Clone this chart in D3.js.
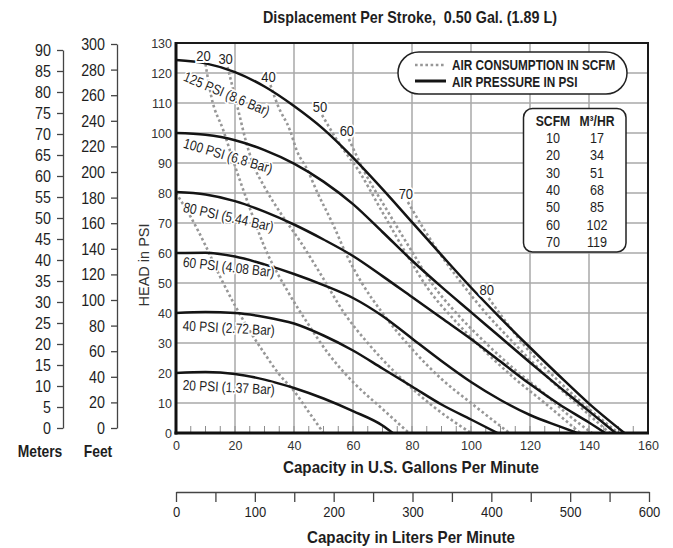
<!DOCTYPE html>
<html>
<head>
<meta charset="utf-8">
<title>pump curve | d3</title>
<style>
  body { margin: 0; background: #fff; }
  svg { display: block; }
  text { font-family: "Liberation Sans", Arial, sans-serif; fill: #1e1e1e; }
  .reg { fill: #333; }
  .bold { font-weight: bold; }
</style>
</head>
<body>
<svg width="673" height="548"></svg>
<script src="https://cdn.jsdelivr.net/npm/d3@7/dist/d3.min.js"></script>
<script>

// ---- data ----
var gpmTicks   = d3.range(0, 161, 20);
var psiTicks   = d3.range(0, 131, 10);
var meterTicks = d3.range(0, 91, 5);
var feetTicks  = d3.range(0, 301, 20);
var lpmTicks   = d3.range(0, 601, 50);

// air pressure curves  [gpm, psi]
var psi125 = [[0,124.3],[10,123.2],[20,120.3],[30,115.5],[40,109],[50,101.3],[60,91.8],[70,81.3],[80,70.3],[90,59.3],[100,48.5],[110,38.3],[120,28.5],[130,19],[140,9.8],[152,0]];
var psi100 = [[0,100],[10,99.4],[20,97.6],[30,94.3],[40,89.8],[50,83.8],[60,76.3],[70,67],[80,57.5],[90,48.7],[100,40.3],[110,31.9],[120,23.5],[130,15.3],[140,7.3],[149,0]];
var psi80  = [[0,80.3],[10,79.5],[20,77.3],[30,73.8],[40,69.5],[50,64.5],[60,59],[70,52.3],[80,45.3],[90,38.3],[100,31.3],[110,23.8],[120,16.3],[130,9.5],[140,3.5],[145.5,0]];
var psi60  = [[0,60],[10,60.1],[20,58.8],[30,56.2],[40,53],[50,49.3],[60,45],[70,39],[80,31.5],[90,24],[100,17],[110,11],[120,6],[130,2.2],[136,0]];
var psi40  = [[0,40],[10,40.3],[20,40],[30,38.7],[40,36.5],[50,32.5],[60,27.5],[70,21.5],[80,15.5],[90,9.5],[100,4.5],[109,0]];
var psi20  = [[0,20],[10,20.3],[20,19.7],[30,17.8],[40,15],[50,11.5],[60,7.3],[70,2.5],[73.5,0]];
var pressureNames = ['125 PSI (8.6 Bar)', '100 PSI (6.8 Bar)', '80 PSI (5.44 Bar)', '60 PSI (4.08 Bar)', '40 PSI (2.72 Bar)', '20 PSI (1.37 Bar)'];

// air consumption curves  [gpm, psi]
var scfm10 = [[0,80],[5,72],[10,62.5],[15,52],[20,42.5],[25,34],[30,26.5],[35,19.5],[40,14],[45,7],[50,0]];
var scfm20 = [[10,123],[12,112],[16,101],[20,89],[25,75],[30,62],[38,47],[45,36],[52,26],[60,17],[70,8],[79,0]];
var scfm30 = [[17.5,122],[19.5,114],[21.5,106],[23.5,98],[26,90],[30,82],[36,72.5],[42,64],[49,53],[57,40],[65,30],[75,19.5],[87,9],[100,0]];
var scfm40 = [[32,116],[34.6,109],[38.6,101],[41,94],[44.4,88],[48,80],[53,70],[58,59],[63,50],[70,40],[80,28],[90,18],[100,10],[113,0]];
var scfm50 = [[49.5,106],[55,97],[62.4,86.7],[69,75.3],[79.3,57.7],[85,48.7],[95,37],[105,27],[115,18],[125,10],[137,0]];
var scfm60 = [[58.6,98],[63.4,88],[71.5,74.3],[80.3,60],[87,49.5],[95,40],[105,30],[115,21],[125,13],[133,6],[141,0]];
var scfm70 = [[78.6,77],[84,68],[90.5,58.3],[96,51],[105,40],[115,29.5],[125,19.5],[135,10.5],[147,0]];
var scfm80 = [[106,45],[110,39.5],[120,27],[130,17],[140,8],[150,0]];
var scfmNames = ['', '20', '30', '40', '50', '60', '70', '80'];

// conversion table
var tableScfm = [10, 20, 30, 40, 50, 60, 70];
var tableM3hr = [17, 34, 51, 68, 85, 102, 119];

// label layout (tilt in degrees, drop below curve start in px)
var labelTilt = [23, 16.5, 12.5, 6.5, 3, 3];
var labelDrop = [19.5, 14, 19, 13.7, 17.7, 17];

var pressure = [psi125, psi100, psi80, psi60, psi40, psi20];
var scfm = [scfm10, scfm20, scfm30, scfm40, scfm50, scfm60, scfm70, scfm80];

// ---- scales ----
var svg = d3.select('svg');
var x  = d3.scaleLinear().domain([0, 160]).range([176, 648]);
var y  = d3.scaleLinear().domain([0, 130]).range([433, 43]);
var ym = d3.scaleLinear().domain([0, 90]).range([428, 50]);
var yf = d3.scaleLinear().domain([0, 300]).range([428, 44]);
var xl = d3.scaleLinear().domain([0, 600]).range([176, 649]);

var NARROW = 0.84;   // condensed look, no narrow font installed

function interp(s, g) {
    for (var i = 1; i < s.length; i++) {
        if (g <= s[i][0]) {
            var t = (g - s[i-1][0]) / (s[i][0] - s[i-1][0]);
            return s[i-1][1] + t * (s[i][1] - s[i-1][1]);
        }
    }
    return s[s.length-1][1];
}

// squeeze text horizontally: to a fixed width, or by a factor
function squeeze(sel, k, width) {
    sel.each(function() {
        var w = this.getComputedTextLength();
        if (w > 0) d3.select(this).attr('textLength', width || w * k).attr('lengthAdjust', 'spacingAndGlyphs');
    });
}

// title
svg.append('text').attr('class', 'bold')
    .attr('x', 410).attr('y', 23).attr('text-anchor', 'middle')
    .style('font-size', '17px').style('white-space', 'pre')
    .text('Displacement Per Stroke,  0.50 Gal. (1.89 L)')
    .call(squeeze, 0, 294);

// grid
var grid = svg.append('g');
grid.selectAll('line.v').data(gpmTicks.filter(function(d){ return d > 0 && d < 160; }))
    .join('line').attr('class', 'v')
    .attr('x1', x).attr('x2', x).attr('y1', y(0)).attr('y2', y(130))
    .attr('stroke', '#a8a8a8').attr('stroke-width', 1.5);
grid.selectAll('line.h').data(psiTicks.filter(function(d){ return d > 0 && d < 130; }))
    .join('line').attr('class', 'h')
    .attr('x1', x(0)).attr('x2', x(160)).attr('y1', y).attr('y2', y)
    .attr('stroke', '#a8a8a8').attr('stroke-width', 1.5);

// minor ticks inside bottom
grid.selectAll('line.m').data(d3.range(5, 160, 5))
    .join('line').attr('class', 'm')
    .attr('x1', x).attr('x2', x).attr('y1', y(0)).attr('y2', y(0) - 7)
    .attr('stroke', '#8c8c8c').attr('stroke-width', 1);

// clip
svg.append('clipPath').attr('id', 'clip').append('rect')
    .attr('x', x(0)).attr('y', y(130)).attr('width', x(160) - x(0)).attr('height', y(0) - y(130));

var line = d3.line().x(function(d){ return x(d[0]); }).y(function(d){ return y(d[1]); }).curve(d3.curveMonotoneX);

var curves = svg.append('g').attr('clip-path', 'url(#clip)');
curves.selectAll('path.air').data(scfm).join('path').attr('class', 'air')
    .attr('d', line).attr('fill', 'none')
    .attr('stroke', '#979797').attr('stroke-width', 2.6).attr('stroke-dasharray', '2.6 2.6');
curves.selectAll('path.psi').data(pressure).join('path').attr('class', 'psi')
    .attr('d', line).attr('fill', 'none')
    .attr('stroke', '#141414').attr('stroke-width', 2.5);

// pressure labels
svg.append('g').selectAll('text').data(pressure).join('text')
    .attr('transform', function(d, i) {
        return 'translate(' + x(2.2) + ',' + (y(interp(d, 2.2)) + labelDrop[i]) + ') rotate(' + labelTilt[i] + ')';
    })
    .style('font-size', '14.2px')
    .attr('stroke', '#fff').attr('stroke-width', 3).attr('paint-order', 'stroke')
    .text(function(d, i){ return pressureNames[i]; })
    .call(squeeze, NARROW);

// scfm labels
svg.append('g').selectAll('text').data(scfm).join('text')
    .attr('x', function(d){ return x(d[0][0]) - 2; })
    .attr('y', function(d){ return y(d[0][1]) - 9; })
    .attr('text-anchor', 'middle').attr('dominant-baseline', 'central')
    .style('font-size', '15.5px')
    .attr('stroke', '#fff').attr('stroke-width', 4).attr('paint-order', 'stroke')
    .text(function(d, i){ return scfmNames[i]; })
    .call(squeeze, NARROW);

// frame
svg.append('rect').attr('x', x(0)).attr('y', y(130)).attr('width', x(160) - x(0)).attr('height', y(0) - y(130))
    .attr('fill', 'none').attr('stroke', '#1a1a1a').attr('stroke-width', 2);
svg.append('line').attr('x1', x(0)).attr('x2', x(0)).attr('y1', y(130) - 1).attr('y2', y(0) + 1.5)
    .attr('stroke', '#111').attr('stroke-width', 3);
svg.append('line').attr('x1', x(0) - 1.5).attr('x2', x(160) + 1).attr('y1', y(0)).attr('y2', y(0))
    .attr('stroke', '#111').attr('stroke-width', 3);

// main axes
var ax = svg.append('g').attr('transform', 'translate(0,' + y(0) + ')')
    .call(d3.axisBottom(x).tickValues(gpmTicks).tickSize(0).tickPadding(8));
var ay = svg.append('g').attr('transform', 'translate(' + x(0) + ',0)')
    .call(d3.axisLeft(y).tickValues(psiTicks).tickSize(0).tickPadding(4));
[ax, ay].forEach(function(a) {
    a.select('.domain').remove();
    a.selectAll('text').attr('class', 'reg').style('font-size', '12.5px').attr('fill', null);
});

svg.append('text').attr('class', 'reg')
    .attr('transform', 'translate(144,265) rotate(-90)')
    .attr('text-anchor', 'middle').attr('dominant-baseline', 'central')
    .style('font-size', '14.5px').text('HEAD in PSI');

svg.append('text').attr('class', 'bold').attr('x', 411).attr('y', 473)
    .attr('text-anchor', 'middle').style('font-size', '17px')
    .text('Capacity in U.S. Gallons Per Minute')
    .call(squeeze, 0, 256);

// meters / feet axes
function sideAxis(scale, ticks, xpos) {
    var g = svg.append('g').attr('transform', 'translate(' + xpos + ',0)')
        .call(d3.axisLeft(scale).tickValues(ticks).tickSize(6).tickSizeOuter(0).tickPadding(6));
    g.select('.domain').attr('stroke', '#444').attr('stroke-width', 1.3);
    g.selectAll('.tick line').attr('stroke', '#444').attr('stroke-width', 1.3);
    g.selectAll('text').style('font-size', '17px').attr('fill', null).call(squeeze, NARROW);
    return g;
}
sideAxis(ym, meterTicks, 63);
sideAxis(yf, feetTicks, 117);
svg.append('text').attr('class', 'bold').attr('x', 40).attr('y', 457)
    .attr('text-anchor', 'middle').style('font-size', '16.5px').text('Meters').call(squeeze, NARROW);
svg.append('text').attr('class', 'bold').attr('x', 98).attr('y', 457)
    .attr('text-anchor', 'middle').style('font-size', '16.5px').text('Feet').call(squeeze, NARROW);

// liters axis
var al = svg.append('g').attr('transform', 'translate(0,492)')
    .call(d3.axisBottom(xl).tickValues(lpmTicks).tickSize(10).tickSizeOuter(0).tickPadding(4)
        .tickFormat(function(d){ return d % 100 === 0 ? d : ''; }));
al.select('.domain').attr('stroke', '#444').attr('stroke-width', 1.3);
al.selectAll('.tick line').attr('stroke', '#444').attr('stroke-width', 1.3);
al.selectAll('text').style('font-size', '15.5px').attr('fill', null).call(squeeze, NARROW);
svg.append('text').attr('class', 'bold').attr('x', 411).attr('y', 543)
    .attr('text-anchor', 'middle').style('font-size', '17px')
    .text('Capacity in Liters Per Minute')
    .call(squeeze, 0, 208);

// legend
var lg = svg.append('g');
lg.append('rect').attr('x', 398).attr('y', 52).attr('width', 229).attr('height', 42).attr('rx', 21)
    .attr('fill', '#fff').attr('stroke', '#222').attr('stroke-width', 1.5);
lg.append('line').attr('x1', 415).attr('x2', 446).attr('y1', 65).attr('y2', 65)
    .attr('stroke', '#979797').attr('stroke-width', 2.6).attr('stroke-dasharray', '2.6 2.6');
lg.append('line').attr('x1', 415).attr('x2', 446).attr('y1', 81).attr('y2', 81)
    .attr('stroke', '#141414').attr('stroke-width', 3);
lg.append('text').attr('class', 'bold').attr('x', 452).attr('y', 65).attr('dominant-baseline', 'central')
    .style('font-size', '14px').text('AIR CONSUMPTION IN SCFM').call(squeeze, NARROW);
lg.append('text').attr('class', 'bold').attr('x', 452).attr('y', 82).attr('dominant-baseline', 'central')
    .style('font-size', '14px').text('AIR PRESSURE IN PSI').call(squeeze, NARROW);

// conversion table
var tb = svg.append('g');
var row = d3.scalePoint().domain(d3.range(tableScfm.length)).range([137.5, 241.7]);
tb.append('rect').attr('x', 523.5).attr('y', 108.5).attr('width', 102.5).attr('height', 143.5).attr('rx', 9)
    .attr('fill', '#fff').attr('stroke', '#222').attr('stroke-width', 1.5);
tb.append('text').attr('class', 'bold').attr('x', 553).attr('y', 121).attr('text-anchor', 'middle')
    .attr('dominant-baseline', 'central').style('font-size', '14.5px').text('SCFM').call(squeeze, NARROW);
tb.append('text').attr('class', 'bold').attr('x', 597).attr('y', 121).attr('text-anchor', 'middle')
    .attr('dominant-baseline', 'central').style('font-size', '14.5px').text('M³/HR').call(squeeze, NARROW);
tb.selectAll('text.c1').data(tableScfm).join('text').attr('class', 'c1')
    .attr('x', 553).attr('y', function(d, i){ return row(i); })
    .attr('text-anchor', 'middle').attr('dominant-baseline', 'central').style('font-size', '15px')
    .text(function(d){ return d; }).call(squeeze, NARROW);
tb.selectAll('text.c2').data(tableM3hr).join('text').attr('class', 'c2')
    .attr('x', 597).attr('y', function(d, i){ return row(i); })
    .attr('text-anchor', 'middle').attr('dominant-baseline', 'central').style('font-size', '15px')
    .text(function(d){ return d; }).call(squeeze, NARROW);

</script>
</body>
</html>
